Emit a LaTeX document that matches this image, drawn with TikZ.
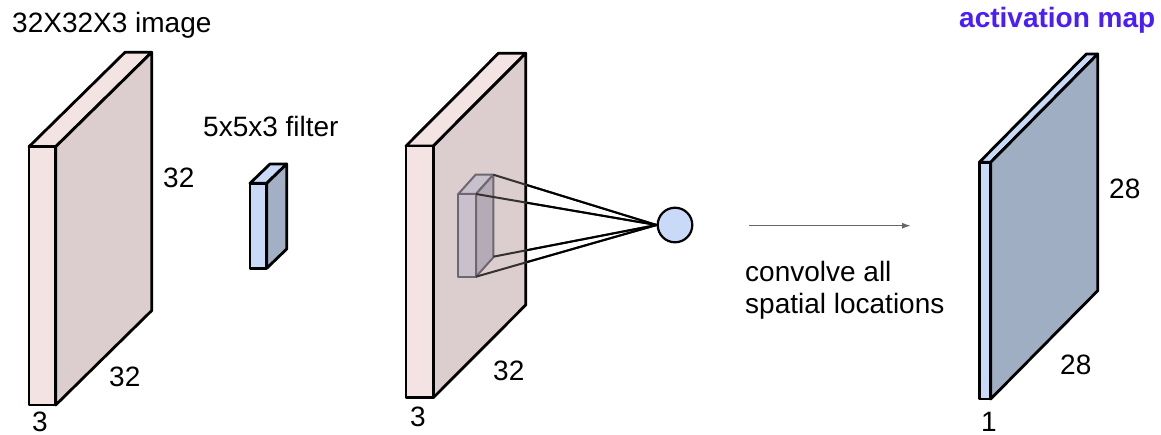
\documentclass[tikz,border=0pt]{standalone}
\usepackage{fontspec}
\setmainfont{Liberation Sans}
\usetikzlibrary{arrows.meta}
\definecolor{pinkfront}{HTML}{F4E3E3}
\definecolor{pinkside}{HTML}{DCCECE}
\definecolor{bluefront}{HTML}{C9DAF8}
\definecolor{blueside}{HTML}{A2AFC5}
\definecolor{actside}{HTML}{A0AEC4}
\definecolor{purfront}{HTML}{C6BECF}
\definecolor{purside}{HTML}{AEA5B4}
\definecolor{puredge}{HTML}{6E6670}
\definecolor{titleblue}{HTML}{4A1EFA}
\newcommand\myslab[9]{% x0 y0 x1 y1 dx dy front side edgestyle
  \path[fill=#7,#9] (#1,#2) -- (#1+#5,#2+#6) -- (#3+#5,#2+#6) -- (#3,#2) -- cycle;
  \path[fill=#8,#9] (#3,#2) -- (#3+#5,#2+#6) -- (#3+#5,#4+#6) -- (#3,#4) -- cycle;
  \path[fill=#7,#9] (#1,#2) rectangle (#3,#4);
}
\tikzset{
  lbl/.style={anchor=base west, inner sep=0pt, font=\fontsize{28}{31}\selectfont},
  slabedge/.style={draw=black, line width=2.8pt, line join=round},
  inslabedge/.style={draw=puredge, line width=2pt, line join=round},
  conn/.style={line width=2pt},
}
\begin{document}
\begin{tikzpicture}[x=1pt,y=-1pt]
\useasboundingbox (0,0) rectangle (1161,435);
% input volume
\myslab{29}{146.7}{55.7}{405}{96}{-94.4}{pinkfront}{pinkside}{slabedge}
\node[lbl] (title) at (12,33) {32X32X3 image};
\node[lbl] (h1) at (163,188) {32};
\node[lbl] (w1) at (109,386) {32};
\node[lbl] (d1) at (32,431) {3};
% filter
\myslab{250}{183.3}{266.7}{268.3}{20}{-19.3}{bluefront}{blueside}{slabedge}
\node[lbl] (flabel) at (203,137) {5x5x3 filter};
% middle volume
\myslab{406}{146}{433.3}{397.7}{92.4}{-92.7}{pinkfront}{pinkside}{slabedge}
\node[lbl] (w2) at (493,380) {32};
\node[lbl] (d2) at (410,426) {3};
% filter inside
\begin{scope}[fill opacity=0.85]
\myslab{458.3}{194}{476}{276.7}{17.3}{-19.3}{purfront}{purside}{inslabedge}
\end{scope}
\coordinate (ftb) at (493.3,174.7);
\coordinate (ftf) at (476,194);
\coordinate (fbb) at (493.3,256.7);
\coordinate (fbf) at (476,276.7);
\node[circle, draw=black, line width=2.2pt, fill=bluefront, minimum size=34.6pt, inner sep=0pt] (neuron) at (675,225) {};
\foreach \c in {ftb,ftf,fbb,fbf}{
  \draw[conn, draw=black!60!pinkside!60!black] (\c) -- (neuron.west);
}
\begin{scope}
\clip (527.1,0) rectangle (700,435);
\foreach \c in {ftb,ftf,fbb,fbf}{
  \draw[conn, draw=black] (\c) -- (neuron.west);
}
\end{scope}
% arrow
\coordinate (a0) at (749,225.7);
\coordinate (a1) at (911,225.7);
\draw[draw=black!60, line width=1.5pt, -{Latex[length=9pt,width=6pt]}] (a0) -- (a1);
\node[lbl] (conv1) at (745,282) {convolve all};
\node[lbl] (conv2) at (745,313) {spatial locations};
% activation map
\myslab{979.3}{162.3}{990.7}{399}{107}{-108.3}{bluefront}{actside}{slabedge}
\node[lbl, font=\fontsize{28}{31}\selectfont\bfseries, text=titleblue] (amap) at (959,28) {activation map};
\node[lbl] (h3) at (1109,199) {28};
\node[lbl] (w3) at (1060,374) {28};
\node[lbl] (d3) at (981,431) {1};
\end{tikzpicture}
\end{document}
